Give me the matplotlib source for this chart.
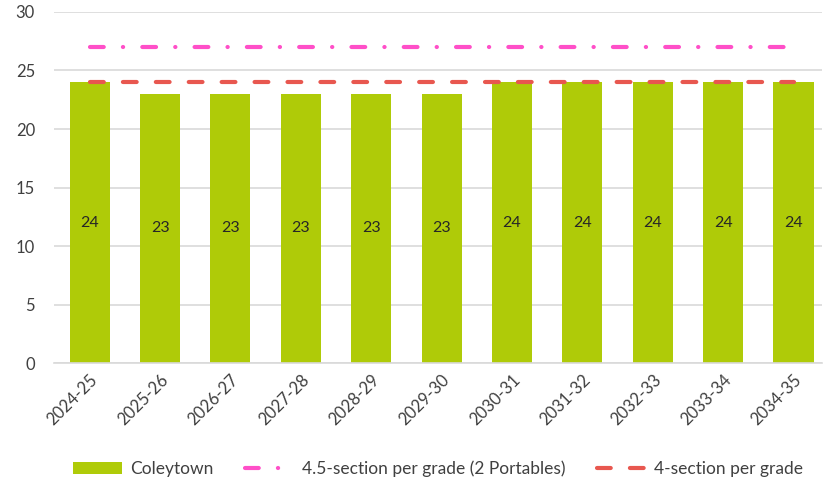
import numpy as np
import matplotlib
matplotlib.use('Agg')
import matplotlib.pyplot as plt

years = ["2024-25", "2025-26", "2026-27", "2027-28", "2028-29", "2029-30",
         "2030-31", "2031-32", "2032-33", "2033-34", "2034-35"]
coleytown = [24, 23, 23, 23, 23, 23, 24, 24, 24, 24, 24]
section_45 = [27] * len(years)
section_4 = [24] * len(years)

plt.rcParams['font.family'] = ['Lato', 'DejaVu Sans']
text_color = '#404040'

fig = plt.figure(figsize=(8.25, 4.79), dpi=100)
ax = fig.add_axes([0.066, 0.242, 0.93, 0.733])

x = np.arange(len(years))
bars = ax.bar(x, coleytown, width=0.57, color='#AFCB08', label='Coleytown', zorder=2)
for xi, v in zip(x, coleytown):
    ax.text(xi, v / 2, str(v), ha='center', va='center', fontsize=11.5, color='#262626', zorder=3)

l1, = ax.plot(x, section_45, color='#FF4FC8', linewidth=3, solid_capstyle='round',
              dash_capstyle='round', label='4.5-section per grade (2 Portables)', zorder=4)
l1.set_dashes([3.3, 4.6, 0.05, 4.6])
l2, = ax.plot(x, section_4, color='#E8574F', linewidth=3, dash_capstyle='round',
              label='4-section per grade', zorder=4)
l2.set_dashes([3.3, 4.6])

ax.set_xlim(-0.5, 10.4)
ax.set_ylim(0, 30)
ax.set_yticks(range(0, 31, 5))
ax.yaxis.grid(True, color='#D9D9D9', linewidth=1.2, zorder=0)
ax.set_axisbelow(True)
for s in ['top', 'right', 'left']:
    ax.spines[s].set_visible(False)
ax.spines['bottom'].set_color('#D9D9D9')
ax.spines['bottom'].set_linewidth(1.2)
ax.tick_params(axis='both', length=0, colors=text_color, labelsize=12)
ax.tick_params(axis='y', pad=14)
ax.tick_params(axis='x', pad=6)
ax.set_xticks(x)
ax.set_xticklabels(years, rotation=45, ha='right', rotation_mode='anchor')

ax.legend(handles=[bars, l1, l2], loc='lower center', bbox_to_anchor=(0.5, -0.37), ncol=3,
          frameon=False, fontsize=12.5, labelcolor=text_color, handlelength=2.8,
          columnspacing=1.8, handletextpad=0.5)

fig.savefig('out.png', dpi=100)
